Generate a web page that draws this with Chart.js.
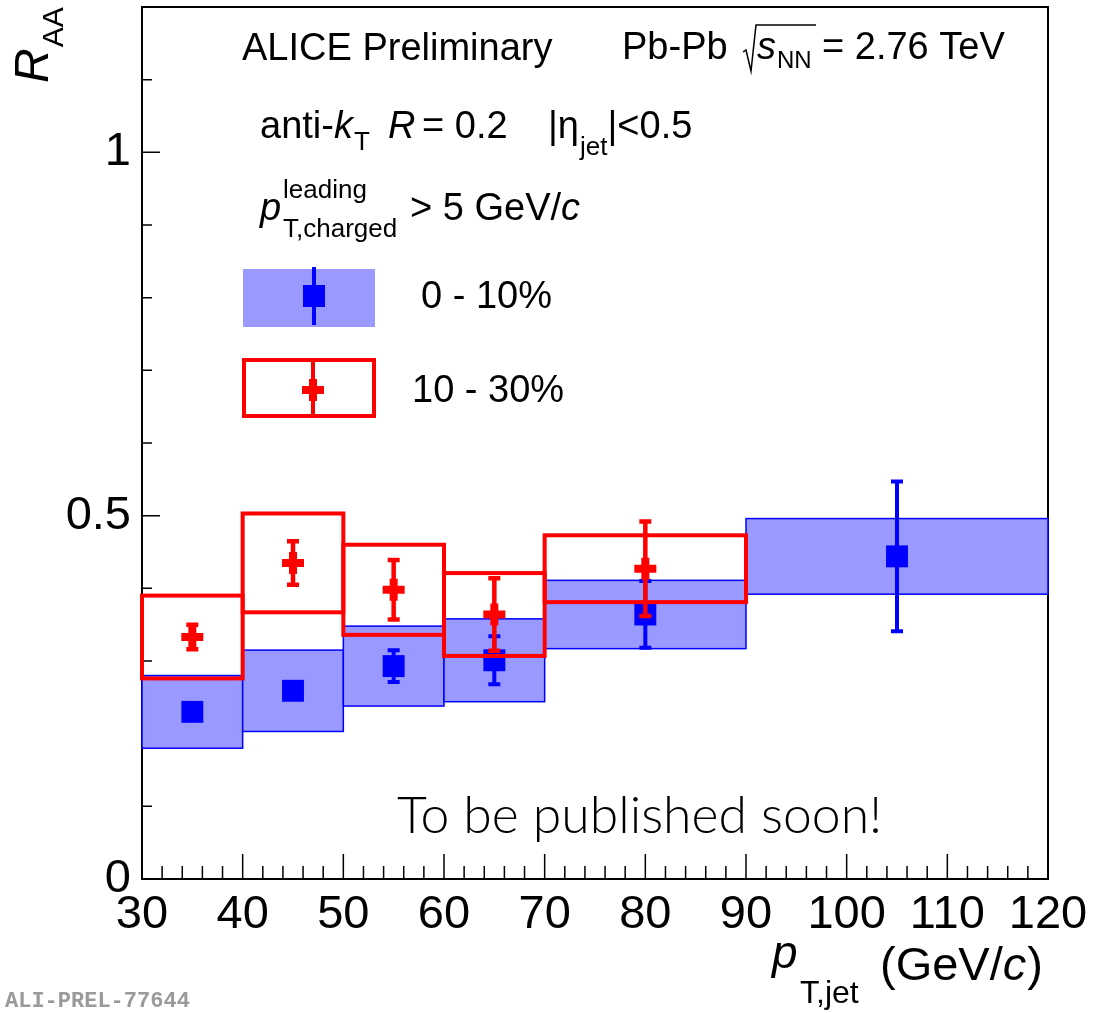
<!DOCTYPE html>
<html>
<head>
<meta charset="utf-8">
<script src="https://cdn.jsdelivr.net/npm/chart.js@4.4.1/dist/chart.umd.min.js"></script>
<style>
  html, body { margin: 0; padding: 0; background: #fff; }
  #wrap { width: 1093px; height: 1013px; }
</style>
</head>
<body>
<div id="wrap"><canvas id="raa" width="1093" height="1013"></canvas></div>
<script>
// pT,jet bins (GeV/c)
const binLow    = [30, 40, 50, 60, 70, 90];
const binHigh   = [40, 50, 60, 70, 90, 120];
const binCenter = [35, 45, 55, 65, 80, 105];

// 0-10% central
const raa010  = [0.230, 0.259, 0.293, 0.301, 0.364, 0.444];
const stat010 = [0.010, 0.012, 0.024, 0.035, 0.048, 0.105];
const sys010  = [0.050, 0.056, 0.055, 0.057, 0.047, 0.052];

// 10-30% (no point in the last bin)
const raa1030  = [0.333, 0.435, 0.398, 0.364, 0.427];
const stat1030 = [0.019, 0.032, 0.043, 0.052, 0.067];
const sys1030  = [0.057, 0.068, 0.062, 0.057, 0.046];

const xTickValues = [30, 40, 50, 60, 70, 80, 90, 100, 110, 120];
const yTickValues = [0, 0.5, 1];

const FONT = '"Liberation Sans", Helvetica, Arial, sans-serif';
Chart.defaults.font.family = FONT;
Chart.defaults.color = '#000';

function seg(c, x, y, t, size, italic) {
    c.font = (italic ? 'italic ' : '') + size + 'px ' + FONT;
    c.fillText(t, x, y);
    return x + c.measureText(t).width;
}

function drawFrame(chart) {
    const c = chart.ctx, a = chart.chartArea;
    const xs = chart.scales.x, ys = chart.scales.y;
    c.save();
    c.strokeStyle = '#000';
    c.lineWidth = 1.5;
    c.beginPath();
    // y ticks, every 0.1, major every 0.5
    for (let k = 0; k <= 12; k++) {
        const py = ys.getPixelForValue(k / 10);
        const len = k % 5 === 0 ? 18 : 10;
        c.moveTo(a.left, py);
        c.lineTo(a.left + len, py);
    }
    // x ticks, every 2, major every 10
    for (let v = 30; v <= 120; v += 2) {
        const px = xs.getPixelForValue(v);
        const len = v % 10 === 0 ? 25 : 13;
        c.moveTo(px, a.bottom);
        c.lineTo(px, a.bottom - len);
    }
    c.stroke();
    c.lineWidth = 2;
    c.strokeRect(a.left, a.top, a.right - a.left, a.bottom - a.top);
    c.restore();
}

function drawCross(c, x, y, size, arm) {
    c.fillRect(x - size / 2, y - arm / 2, size, arm);
    c.fillRect(x - arm / 2, y - size / 2, arm, size);
}

const errorPlugin = {
    id: 'errorPlugin',
    beforeDatasetsDraw(chart) {
        drawFrame(chart);
    },
    beforeDatasetDraw(chart, args) {
        const ds = chart.data.datasets[args.index];
        const xs = chart.scales.x, ys = chart.scales.y;
        const c = chart.ctx;
        c.save();
        // systematic boxes
        ds.data.forEach((p, i) => {
            const l = xs.getPixelForValue(binLow[i]);
            const r = xs.getPixelForValue(binHigh[i]);
            const t = ys.getPixelForValue(p.y + ds.sys[i]);
            const b = ys.getPixelForValue(p.y - ds.sys[i]);
            if (ds.boxFill) {
                c.fillStyle = ds.boxFill;
                c.fillRect(l, t, r - l, b - t);
            }
            c.lineWidth = ds.boxLineWidth;
            c.strokeStyle = ds.boxLine;
            c.strokeRect(l, t, r - l, b - t);
        });
        // statistical error bars
        c.strokeStyle = ds.errColor;
        c.lineWidth = ds.errWidth;
        c.beginPath();
        ds.data.forEach((p, i) => {
            const px = xs.getPixelForValue(p.x);
            const hi = ys.getPixelForValue(p.y + ds.stat[i]);
            const lo = ys.getPixelForValue(p.y - ds.stat[i]);
            c.moveTo(px, hi); c.lineTo(px, lo);
            c.moveTo(px - 6, hi + 1.5); c.lineTo(px + 6, hi + 1.5);
            c.moveTo(px - 6, lo - 1.5); c.lineTo(px + 6, lo - 1.5);
        });
        c.stroke();
        c.restore();
    },
    afterDraw(chart) {
        const c = chart.ctx;
        c.save();
        c.fillStyle = '#000';
        c.textBaseline = 'alphabetic';
        c.textAlign = 'left';

        seg(c, 242, 60, 'ALICE Preliminary', 38);

        seg(c, 622, 59, 'Pb-Pb', 38);
        c.strokeStyle = '#000';
        c.lineWidth = 1.5;
        c.beginPath();
        c.moveTo(743, 52); c.lineTo(746, 50); c.lineTo(751, 71);
        c.lineTo(756, 25); c.lineTo(816, 25);
        c.stroke();
        let x = seg(c, 757, 59, 's', 38, true);
        seg(c, x + 1, 68, 'NN', 24);
        seg(c, 822, 59, '= 2.76 TeV', 38);

        x = seg(c, 260, 138, 'anti-', 38);
        x = seg(c, x, 138, 'k', 38, true);
        seg(c, x + 1, 150, 'T', 26);
        seg(c, 388, 138, 'R', 38, true);
        seg(c, 422, 138, '= 0.2', 38);
        x = seg(c, 548, 138, '|\u03b7', 38);
        x = seg(c, x + 1, 155, 'jet', 26);
        seg(c, x, 138, '|<0.5', 38);

        seg(c, 260, 220, 'p', 38, true);
        seg(c, 283, 198, 'leading', 26);
        seg(c, 283, 237, 'T,charged', 26);
        x = seg(c, 410, 220, '> 5 GeV/', 38);
        seg(c, x, 220, 'c', 38, true);

        // legend
        c.fillStyle = '#9999ff';
        c.fillRect(243, 269, 132, 58);
        c.fillStyle = '#0000ff';
        c.fillRect(312, 267, 4, 58);
        c.fillRect(303, 285, 22, 22);
        c.strokeStyle = '#ff0000';
        c.lineWidth = 4;
        c.strokeRect(244, 360, 130, 56);
        c.fillStyle = '#ff0000';
        c.fillRect(311, 360, 4, 56);
        drawCross(c, 313, 390, 22, 8);
        c.fillStyle = '#000';
        seg(c, 421, 308, '0 - 10%', 38);
        seg(c, 412, 402, '10 - 30%', 38);

        // axis titles
        c.save();
        c.translate(48, 83);
        c.rotate(-Math.PI / 2);
        const rw = seg(c, 0, 0, 'R', 48, true);
        seg(c, rw + 1, 15, 'AA', 30);
        c.restore();

        seg(c, 772, 968, 'p', 46, true);
        seg(c, 800, 1003, 'T,jet', 32);
        x = seg(c, 880, 980, '(GeV/', 47);
        x = seg(c, x, 980, 'c', 47, true);
        seg(c, x + 1, 980, ')', 47);

        // note
        c.font = '300 50px Lato, "Open Sans", sans-serif';
        const w = c.measureText('To be published soon!').width;
        c.font = '300 ' + (50 * 485 / w).toFixed(1) + 'px Lato, "Open Sans", sans-serif';
        c.fillText('To be published soon!', 397, 833);

        c.fillStyle = '#9a9a9a';
        c.font = 'bold 22px "Liberation Mono", "DejaVu Sans Mono", monospace';
        c.fillText('ALI-PREL-77644', 5, 1007);
        c.restore();
    }
};

const ctx = document.getElementById('raa').getContext('2d');
new Chart(ctx, {
    type: 'scatter',
    data: {
        datasets: [
            {
                label: '0 - 10%',
                data: binCenter.map((x, i) => ({ x: x, y: raa010[i] })),
                pointStyle: 'rect',
                pointRadius: 15.5,
                pointBackgroundColor: '#0000ff',
                pointBorderWidth: 0,
                order: 2,
                stat: stat010,
                sys: sys010,
                boxFill: '#9999ff',
                boxLine: '#0000ff',
                boxLineWidth: 1.5,
                errColor: '#0000ff',
                errWidth: 4
            },
            {
                label: '10 - 30%',
                data: raa1030.map((y, i) => ({ x: binCenter[i], y: y })),
                pointStyle: 'cross',
                pointRadius: 11,
                pointBorderColor: '#ff0000',
                pointBackgroundColor: '#ff0000',
                pointBorderWidth: 8,
                order: 1,
                stat: stat1030,
                sys: sys1030,
                boxFill: null,
                boxLine: '#ff0000',
                boxLineWidth: 4,
                errColor: '#ff0000',
                errWidth: 4.5
            }
        ]
    },
    options: {
        responsive: false,
        animation: false,
        events: [],
        layout: { autoPadding: false, padding: { left: 0, right: 45, top: 7, bottom: 0 } },
        plugins: {
            legend: { display: false },
            tooltip: { enabled: false }
        },
        scales: {
            x: {
                type: 'linear',
                min: 30,
                max: 120,
                grid: { display: false, drawTicks: false },
                border: { display: false },
                ticks: {
                    autoSkip: false,
                    maxRotation: 0,
                    padding: 8,
                    color: '#000',
                    font: { size: 47 },
                    callback: v => String(v)
                },
                afterBuildTicks: s => { s.ticks = xTickValues.map(v => ({ value: v })); },
                afterFit: s => { s.height = 134; s.paddingLeft = 0; s.paddingRight = 0; }
            },
            y: {
                min: 0,
                max: 1.2,
                grid: { display: false, drawTicks: false },
                border: { display: false },
                ticks: {
                    autoSkip: false,
                    padding: 11,
                    color: '#000',
                    font: { size: 47 },
                    callback: v => String(v)
                },
                afterBuildTicks: s => { s.ticks = yTickValues.map(v => ({ value: v })); },
                afterFit: s => { s.width = 142; s.paddingTop = 0; s.paddingBottom = 0; }
            }
        }
    },
    plugins: [errorPlugin]
});
</script>
</body>
</html>
